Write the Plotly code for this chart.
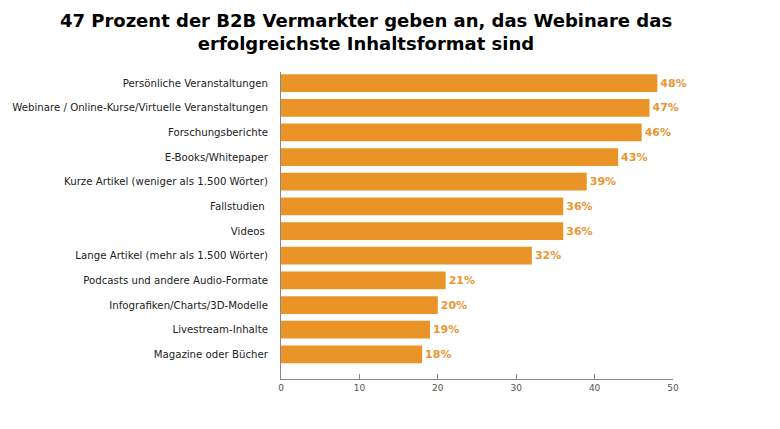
import plotly.graph_objects as go

categories = [
    "Persönliche Veranstaltungen",
    "Webinare / Online-Kurse/Virtuelle Veranstaltungen",
    "Forschungsberichte",
    "E-Books/Whitepaper",
    "Kurze Artikel (weniger als 1.500 Wörter)",
    "Fallstudien ",
    "Videos ",
    "Lange Artikel (mehr als 1.500 Wörter)",
    "Podcasts und andere Audio-Formate",
    "Infografiken/Charts/3D-Modelle",
    "Livestream-Inhalte",
    "Magazine oder Bücher",
]
values = [48, 47, 46, 43, 39, 36, 36, 32, 21, 20, 19, 18]
value_labels = [f"{v}%" for v in values]
tick_values = [0, 10, 20, 30, 40, 50]

bar_color = "#EA9428"

# the page body adds an 8px margin; compensate so the plot sits where the reference's does
W, H = 772, 421

fig = go.Figure(
    go.Bar(
        x=values,
        y=categories,
        orientation="h",
        marker=dict(color=bar_color, line=dict(width=0)),
        text=value_labels,
        textposition="outside",
        cliponaxis=False,
        textfont=dict(family="DejaVu Sans", size=11, color="#EA9633", weight="bold"),
        hoverinfo="skip",
    )
)

fig.update_layout(
    width=W,
    height=H,
    margin=dict(l=273, r=107, t=64, b=50),
    paper_bgcolor="white",
    plot_bgcolor="white",
    bargap=0.28,
    showlegend=False,
    title=dict(
        text="47 Prozent der B2B Vermarkter geben an, das Webinare das<br>erfolgreichste Inhaltsformat sind",
        x=358 / W,
        xanchor="center",
        y=0.955,
        yanchor="top",
        font=dict(family="DejaVu Sans", size=18, color="black", weight="bold"),
    ),
)

fig.update_xaxes(
    range=[0, 50],
    tickvals=tick_values,
    ticks="inside",
    ticklen=5,
    tickcolor="#888888",
    showline=True,
    linecolor="#888888",
    linewidth=1,
    showgrid=False,
    zeroline=False,
    automargin=False,
    tickfont=dict(family="DejaVu Sans", size=9, color="#555555"),
)

fig.update_yaxes(
    range=[12.0, -0.45],
    showline=True,
    linecolor="#888888",
    linewidth=1,
    showgrid=False,
    ticks="",
    automargin=False,
    ticklabelstandoff=10,
    tickfont=dict(family="DejaVu Sans", size=10.2, color="#222222"),
)

fig.write_html("out.html")
